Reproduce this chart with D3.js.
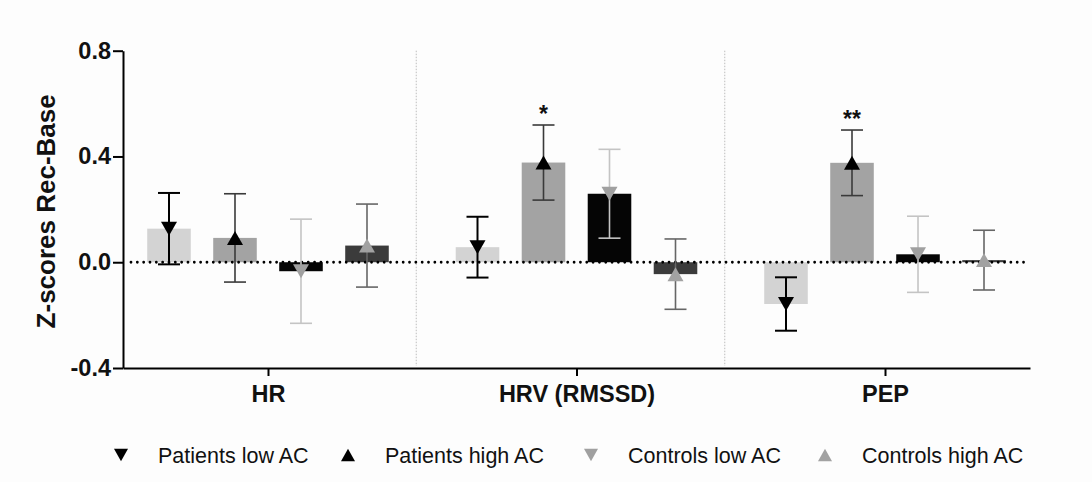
<!DOCTYPE html>
<html>
<head>
<meta charset="utf-8">
<script src="https://cdn.jsdelivr.net/npm/d3@7"></script>
<style>
  html, body { margin: 0; padding: 0; background: #fdfdfd; }
  svg { display: block; }
  text { font-family: "Liberation Sans", Arial, Helvetica, sans-serif; }
</style>
</head>
<body>
<svg id="chart" width="1092" height="482"></svg>
<script>
// ---------- DATA ----------
const groups = ["HR", "HRV (RMSSD)", "PEP"];
const series = ["Patients low AC", "Patients high AC", "Controls low AC", "Controls high AC"];

// means per group (HR, HRV, PEP)
const patientsLowMean  = [0.127, 0.057, -0.158];
const patientsHighMean = [0.092, 0.377, 0.376];
const controlsLowMean  = [-0.034, 0.259, 0.030];
const controlsHighMean = [0.063, -0.045, 0.008];

// standard errors per group
const patientsLowSem  = [0.135, 0.115, 0.101];
const patientsHighSem = [0.167, 0.142, 0.124];
const controlsLowSem  = [0.197, 0.168, 0.144];
const controlsHighSem = [0.157, 0.133, 0.113];

const yTickValues = [-0.4, 0.0, 0.4, 0.8];
const yTickLabels = ["-0.4", "0.0", "0.4", "0.8"];

const significance = [
  { group: "HRV (RMSSD)", series: "Patients high AC", label: "*" },
  { group: "PEP", series: "Patients high AC", label: "**" }
];

// ---------- STYLE / LAYOUT ----------
const seriesStyle = {
  "Patients low AC":  { bar: "#d3d3d3", marker: "#000000", err: "#000000", errW: 2,   dir: "down" },
  "Patients high AC": { bar: "#a3a3a3", marker: "#000000", err: "#3a3a3a", errW: 1.6, dir: "up" },
  "Controls low AC":  { bar: "#050505", marker: "#a0a0a0", err: "#c4c4c4", errW: 1.6, dir: "down" },
  "Controls high AC": { bar: "#3b3b3b", marker: "#a2a2a2", err: "#666666", errW: 1.6, dir: "up" }
};
const legendX = [121, 348, 591, 825];

const means = [patientsLowMean, patientsHighMean, controlsLowMean, controlsHighMean];
const sems  = [patientsLowSem, patientsHighSem, controlsLowSem, controlsHighSem];

const rows = [];
groups.forEach((g, gi) => {
  series.forEach((s, si) => {
    rows.push({ group: g, series: s, mean: means[si][gi], sem: sems[si][gi] });
  });
});

const svg = d3.select("#chart");
svg.append("rect").attr("width", 1092).attr("height", 482).attr("fill", "#fdfdfd");

const x0 = d3.scalePoint().domain(groups).range([123, 1030]).padding(0.47);
const x1 = d3.scaleBand().domain(series).range([-132, 132]).paddingInner(0.34).paddingOuter(0.17);
const y = d3.scaleLinear().domain([-0.4, 0.8]).range([368, 50.7]);

function tri(w, h, dir) {
  return dir === "up"
    ? `M0,${-h/2}L${w/2},${h/2}L${-w/2},${h/2}Z`
    : `M0,${h/2}L${w/2},${-h/2}L${-w/2},${-h/2}Z`;
}

// group dividers
const step = x0.step();
groups.slice(0, -1).forEach(g => {
  const xd = x0(g) + step / 2 - 6;
  svg.append("line")
    .attr("x1", xd).attr("x2", xd)
    .attr("y1", y(0.8)).attr("y2", y(-0.4) - 2)
    .attr("stroke", "#bdbdbd").attr("stroke-width", 1)
    .attr("stroke-dasharray", "1.5,1.5");
});

// bars
const cx = d => x0(d.group) + x1(d.series) + x1.bandwidth() / 2;
svg.append("g").selectAll("rect").data(rows).join("rect")
  .attr("x", d => x0(d.group) + x1(d.series))
  .attr("width", x1.bandwidth())
  .attr("y", d => y(Math.max(0, d.mean)))
  .attr("height", d => Math.abs(y(d.mean) - y(0)))
  .attr("fill", d => seriesStyle[d.series].bar);

// zero dotted line
svg.append("line")
  .attr("x1", 131).attr("x2", 1028)
  .attr("y1", y(0)).attr("y2", y(0))
  .attr("stroke", "#000").attr("stroke-width", 2.8)
  .attr("stroke-linecap", "round")
  .attr("stroke-dasharray", "0,6.33");

// error bars
const eg = svg.append("g").selectAll("g").data(rows).join("g")
  .attr("stroke", d => seriesStyle[d.series].err)
  .attr("stroke-width", d => seriesStyle[d.series].errW);
eg.append("line")
  .attr("x1", cx).attr("x2", cx)
  .attr("y1", d => y(d.mean + d.sem)).attr("y2", d => y(d.mean - d.sem));
eg.append("line")
  .attr("x1", d => cx(d) - 11).attr("x2", d => cx(d) + 11)
  .attr("y1", d => y(d.mean + d.sem)).attr("y2", d => y(d.mean + d.sem));
eg.append("line")
  .attr("x1", d => cx(d) - 11).attr("x2", d => cx(d) + 11)
  .attr("y1", d => y(d.mean - d.sem)).attr("y2", d => y(d.mean - d.sem));

// markers
svg.append("g").selectAll("path").data(rows).join("path")
  .attr("transform", d => `translate(${cx(d)},${y(d.mean)})`)
  .attr("d", d => tri(16, 14, seriesStyle[d.series].dir))
  .attr("fill", d => seriesStyle[d.series].marker);

// significance
svg.append("g").selectAll("text").data(significance).join("text")
  .attr("x", d => x0(d.group) + x1(d.series) + x1.bandwidth() / 2)
  .attr("y", d => {
    const r = rows.find(r => r.group === d.group && r.series === d.series);
    return y(r.mean + r.sem) - 3;
  })
  .attr("text-anchor", "middle")
  .attr("font-size", 23).attr("font-weight", "bold")
  .attr("fill", "#111")
  .text(d => d.label);

// y axis
const yAxis = svg.append("g").attr("transform", "translate(123,0)")
  .call(d3.axisLeft(y).tickValues(yTickValues)
    .tickFormat((d, i) => yTickLabels[i]).tickSize(10).tickSizeOuter(0).tickPadding(2));
yAxis.select(".domain").attr("stroke", "#000").attr("stroke-width", 2);
yAxis.selectAll(".tick line").attr("stroke", "#000").attr("stroke-width", 2);
yAxis.selectAll(".tick text").attr("font-size", 23.5).attr("font-weight", "bold")
  .attr("fill", "#111").attr("font-family", '"Liberation Sans", Arial, sans-serif');

// x axis
const xAxis = svg.append("g").attr("transform", `translate(0,${y(-0.4)})`)
  .call(d3.axisBottom(x0).tickSize(8).tickSizeOuter(0).tickPadding(9));
xAxis.select(".domain").attr("stroke", "#000").attr("stroke-width", 2);
xAxis.selectAll(".tick line").attr("stroke", "#000").attr("stroke-width", 2);
xAxis.selectAll(".tick text").attr("font-size", 23.5).attr("font-weight", "bold")
  .attr("fill", "#111").attr("font-family", '"Liberation Sans", Arial, sans-serif');

// y title
svg.append("text")
  .attr("transform", `translate(55,${(y(0.8) + y(-0.4)) / 2 + 2}) rotate(-90)`)
  .attr("text-anchor", "middle")
  .attr("font-size", 26).attr("font-weight", "bold").attr("fill", "#111")
  .text("Z-scores Rec-Base");

// legend
const lg = svg.append("g").selectAll("g").data(series).join("g")
  .attr("transform", (d, i) => `translate(${legendX[i]},455)`);
lg.append("path")
  .attr("d", d => tri(14, 12.5, seriesStyle[d].dir))
  .attr("fill", d => seriesStyle[d].marker);
lg.append("text")
  .attr("x", 37).attr("dy", "0.35em")
  .attr("font-size", 21.5).attr("fill", "#111")
  .text(d => d);
</script>
</body>
</html>
